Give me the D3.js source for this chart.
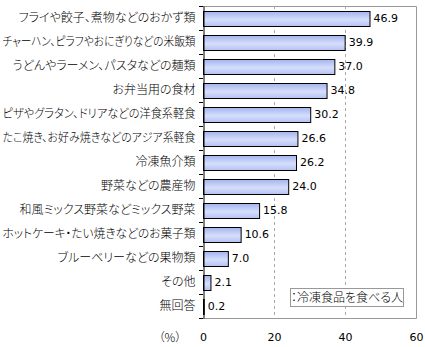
<!DOCTYPE html>
<html><head><meta charset="utf-8">
<script src="https://cdn.jsdelivr.net/npm/d3@7"></script>
<style>
body{margin:0;background:#fff;}
svg{display:block;}
.cat{font-family:"Noto Sans CJK JP",sans-serif;font-size:12px;font-weight:300;font-feature-settings:"palt";fill:#000;}
.num{font-family:"DejaVu Sans",sans-serif;font-size:11px;fill:#000;}
</style>
</head><body>
<svg id="c" width="425" height="347"></svg>
<script>
const categories = [
  "フライや餃子、煮物などのおかず類",
  "チャーハン、ピラフやおにぎりなどの米飯類",
  "うどんやラーメン、パスタなどの麺類",
  "お弁当用の食材",
  "ピザやグラタン、ドリアなどの洋食系軽食",
  "たこ焼き、お好み焼きなどのアジア系軽食",
  "冷凍魚介類",
  "野菜などの農産物",
  "和風ミックス野菜などミックス野菜",
  "ホットケーキ・たい焼きなどのお菓子類",
  "ブルーベリーなどの果物類",
  "その他",
  "無回答"
];
const values = [46.9, 39.9, 37.0, 34.8, 30.2, 26.6, 26.2, 24.0, 15.8, 10.6, 7.0, 2.1, 0.2];
const xTicks = [0, 20, 40, 60];
const legendLabel = "：冷凍食品を食べる人";
const unitLabel = "（%）";

(function(){
const svg = d3.select("#c");
const L = 203, R = 416, T = 6, B = 318;
const x = d3.scaleLinear().domain([0, 60]).range([L, R]);
const y = d3.scaleBand().domain(categories).range([T, B]).paddingInner(0.375).paddingOuter(0.1875);

const defs = svg.append("defs");
const g = defs.append("linearGradient").attr("id","bg").attr("x1",0).attr("y1",0).attr("x2",0).attr("y2",1);
g.append("stop").attr("offset","0%").attr("stop-color","#a4b4ee");
g.append("stop").attr("offset","55%").attr("stop-color","#d6defb");
g.append("stop").attr("offset","100%").attr("stop-color","#b4c2f2");

svg.append("path")
  .attr("d", `M${L},${T+0.5}H${R+0.5}V${B+0.5}H${L}`)
  .attr("fill","none").attr("stroke","#999").attr("stroke-width",1);

svg.selectAll(".grid").data(xTicks.filter(t => t > 0 && t < 60)).enter().append("line")
  .attr("x1", d => Math.round(x(d)) + 0.5).attr("x2", d => Math.round(x(d)) + 0.5)
  .attr("y1", T).attr("y2", B)
  .attr("stroke","#aaa").attr("stroke-dasharray","3,3");

svg.selectAll(".bar").data(values).enter().append("rect")
  .attr("x", x(0) + 0.5)
  .attr("y", (d,i) => Math.round(y(categories[i])) + 0.5)
  .attr("width", d => Math.max(0, x(d) - x(0)))
  .attr("height", Math.round(y.bandwidth()))
  .attr("fill","url(#bg)").attr("stroke","#000").attr("stroke-width",1);

svg.selectAll(".val").data(values).enter().append("text")
  .attr("class","num")
  .attr("x", d => x(d) + 4)
  .attr("y", (d,i) => y(categories[i]) + y.bandwidth()/2)
  .attr("dy","0.36em")
  .text(d => d.toFixed(1));

const yAxis = d3.axisLeft(y).tickSize(0).tickPadding(8);
const ya = svg.append("g").attr("transform", `translate(${L+0.5},0)`).call(yAxis);
ya.select(".domain").attr("stroke","#000");
ya.selectAll("text").attr("class","cat").attr("font-family",null).attr("font-size",null)
  .each(function(){
    const w = this.getComputedTextLength();
    const maxW = 193;
    if (w > maxW) d3.select(this).attr("textLength", maxW).attr("lengthAdjust","spacingAndGlyphs");
  });
const bounds = d3.range(categories.length + 1).map(i => T + i * y.step());
svg.selectAll(".bt").data(bounds).enter().append("line")
  .attr("x1", L - 4).attr("x2", L)
  .attr("y1", d => Math.round(d) + 0.5).attr("y2", d => Math.round(d) + 0.5)
  .attr("stroke","#000");

const xAxis = d3.axisBottom(x).tickValues(xTicks).tickSize(0).tickPadding(15).tickFormat(d3.format("d"));
const xa = svg.append("g").attr("transform", `translate(0,${B})`).call(xAxis);
xa.select(".domain").remove();
xa.selectAll("text").attr("class","num").attr("font-family",null).attr("font-size",null);

svg.append("text").attr("class","cat").attr("x", 170).attr("y", 342)
  .attr("text-anchor","middle").text(unitLabel);

const lg = svg.append("g");
lg.append("rect").attr("x", 290.5).attr("y", 288.5).attr("width", 113).attr("height", 18)
  .attr("fill","#fff").attr("stroke","#999");
lg.append("text").attr("class","cat").attr("x", 291).attr("y", 298).attr("dy","0.36em")
  .text(legendLabel);
})();
</script>
</body></html>
